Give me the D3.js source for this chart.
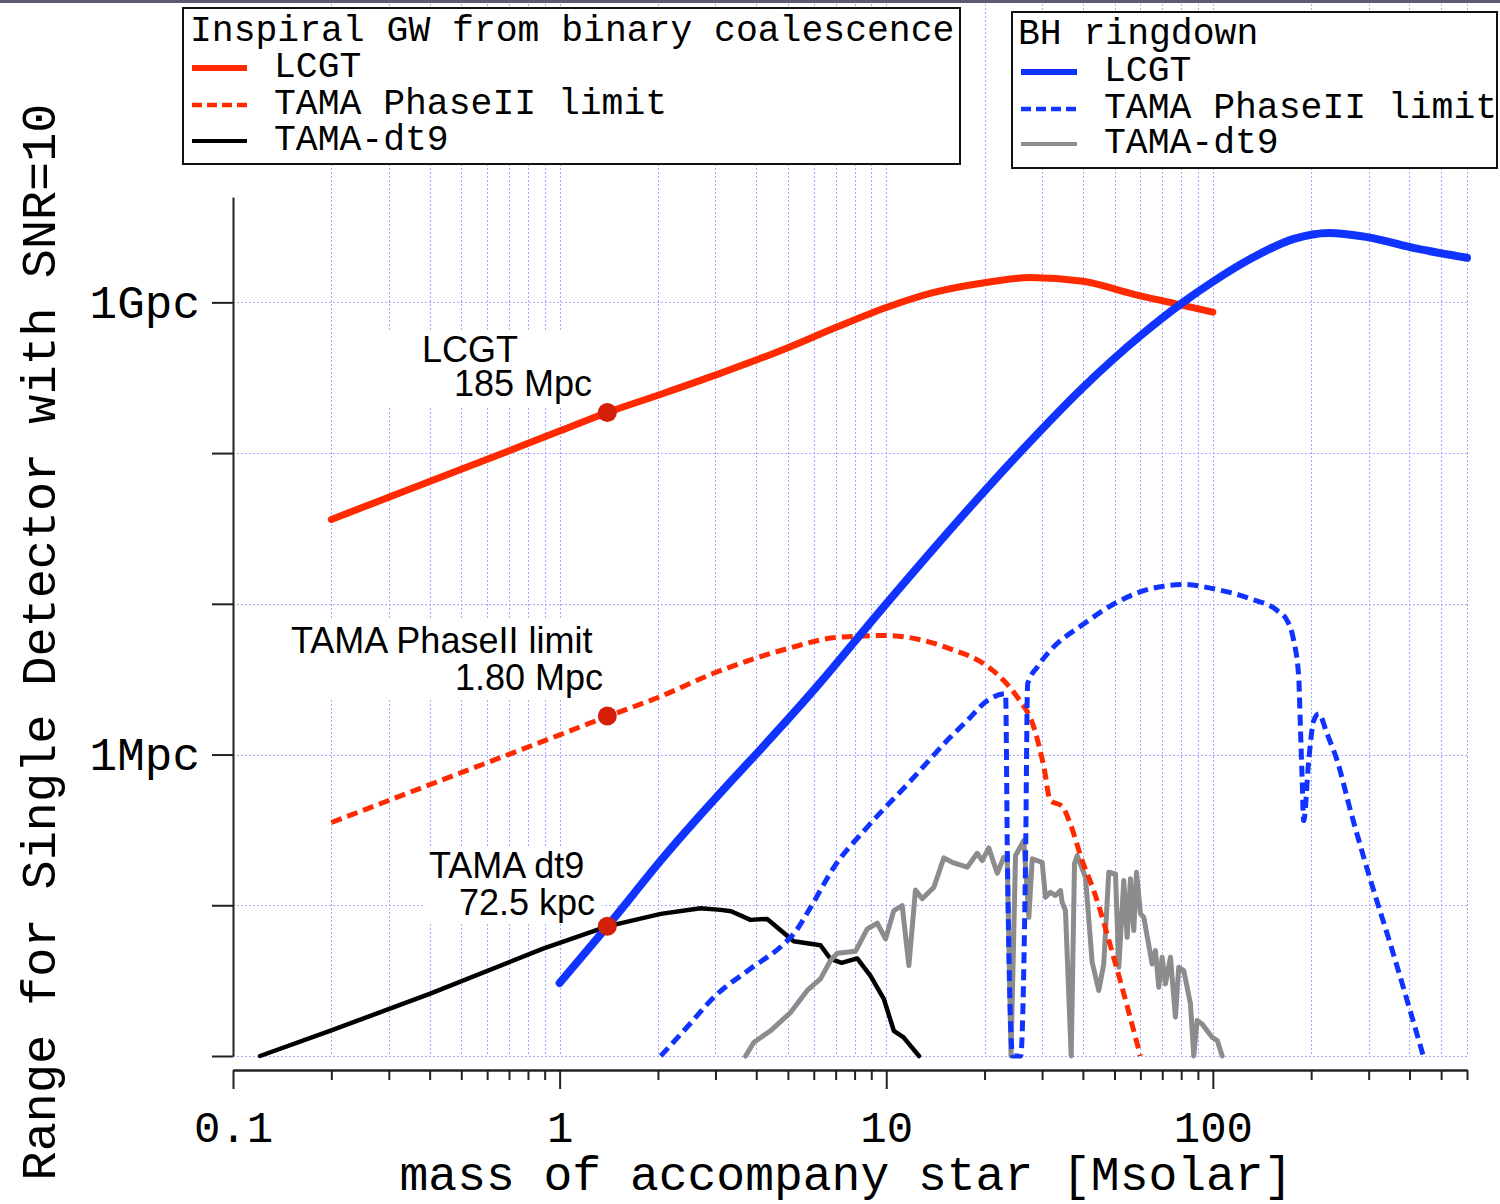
<!DOCTYPE html>
<html>
<head>
<meta charset="utf-8">
<script src="https://cdn.jsdelivr.net/npm/d3@7"></script>
<style>
  body { margin: 0; background: #fff; }
</style>
</head>
<body>
<svg width="1500" height="1204"></svg>
<script>
// ---- data: [mass of accompany star (Msolar), range (Mpc)] ----
// inspiral GW from binary coalescence
const inspLCGT = [[0.2, 36.3], [0.5, 78], [1, 140], [1.4, 186], [2, 242], [3, 329], [5, 500], [7, 680],
    [10, 925], [14, 1165], [20, 1350], [27.5, 1460], [40, 1380], [57, 1135], [76, 985], [100, 861]];

const inspTAMA = [[0.2, 0.354], [0.5, 0.759], [1, 1.35], [1.4, 1.79], [2, 2.39], [3, 3.5], [5, 5.05], [7, 5.97],
    [10, 6.16], [13, 5.71], [15.7, 5.03], [19.9, 4.0], [22.9, 3.10], [25.2, 2.40], [28.3, 1.52], [30.4, 0.824],
    [31.8, 0.495], [34.5, 0.455], [36.6, 0.347], [39.8, 0.198], [43.2, 0.125], [49.7, 0.0452], [60, 0.01]];

const inspDt9 = [[0.121, 0.01], [0.2, 0.0148], [0.4, 0.0258], [0.89, 0.0516], [1.4, 0.0725], [2.04, 0.0877],
    [2.7, 0.0955], [3.11, 0.0932], [3.35, 0.0912], [3.84, 0.080], [4.32, 0.0812], [5.21, 0.0577], [6.29, 0.0543],
    [6.75, 0.0441], [7.3, 0.0415], [8.15, 0.0444], [8.95, 0.0340], [9.84, 0.0238], [10.55, 0.0147],
    [11.3, 0.0133], [12.6, 0.01]];

// BH ringdown
const ringLCGT = [[1, 0.0305], [1.4, 0.0725], [2.04, 0.198], [6.23, 2.94], [10, 10], [25, 95], [40, 272],
    [60, 600], [80.5, 990], [100, 1370], [133, 1990], [177, 2640], [227, 2890], [297, 2709], [422, 2270], [600, 1977]];

const ringTAMA = [[2.04, 0.01], [2.4, 0.0147], [3.04, 0.0258], [3.84, 0.0379], [4.86, 0.0554], [5.21, 0.0646],
    [5.87, 0.097], [6.92, 0.179], [8.75, 0.330], [11.9, 0.672], [15.7, 1.30], [17.7, 1.68], [20.4, 2.28],
    [23.2, 2.53], [23.5, 0.198], [24.4, 0.01], [25.8, 0.01], [26.7, 0.198], [27.1, 2.94], [29.0, 3.80],
    [31.8, 4.90], [40.3, 7.37], [50.9, 10.25], [64.4, 12.58], [81.5, 13.43], [100.6, 12.58], [130.4, 10.79],
    [157.3, 9.03], [168.8, 7.75], [176.8, 5.71], [183.2, 3.26], [185.4, 1.52], [187.6, 0.707], [189.7, 0.365],
    [196.6, 0.912], [203.6, 1.68], [211, 1.86], [223.8, 1.37], [240.2, 0.912], [263.8, 0.425], [289.7, 0.208],
    [362, 0.043], [441, 0.01]];

const ringDt9 = [[3.71, 0.01], [3.93, 0.0123], [4.42, 0.0147], [5.10, 0.0195], [5.73, 0.0272], [6.29, 0.0325],
    [6.75, 0.0430], [7.08, 0.0480], [8.05, 0.0495], [8.75, 0.0697], [9.39, 0.0760], [9.95, 0.0598],
    [10.55, 0.0922], [11.19, 0.0995], [11.73, 0.0398], [12.29, 0.1265], [12.89, 0.1103], [13.99, 0.1317],
    [15.01, 0.2063], [15.92, 0.1929], [17.70, 0.1788], [18.99, 0.2213], [19.67, 0.198], [20.61, 0.2403],
    [21.87, 0.1631], [22.91, 0.2083], [23.47, 0.2083], [24.10, 0.01], [24.88, 0.2137], [26.37, 0.2688],
    [27.33, 0.0833], [27.99, 0.2032], [30.02, 0.1929], [30.73, 0.1130], [31.83, 0.1220], [32.97, 0.1160],
    [34.16, 0.1252], [34.57, 0.1047], [35.38, 0.0922], [36.84, 0.01], [37.71, 0.1883], [38.43, 0.2137],
    [40.74, 0.1534], [42.71, 0.0419], [44.74, 0.0272], [46.35, 0.0408], [48.01, 0.1656], [50.34, 0.1616],
    [51.52, 0.0388], [53.37, 0.1458], [54.66, 0.0613], [55.95, 0.1497], [57.27, 0.0679], [58.38, 0.1656],
    [60.04, 0.0877], [61.45, 0.0833], [65.19, 0.0408], [66.73, 0.0500], [68.30, 0.0286], [69.95, 0.0452],
    [71.60, 0.0301], [74.17, 0.0452], [76.83, 0.0181], [78.64, 0.0388], [81.46, 0.0369], [85.40, 0.0222],
    [87.41, 0.01], [89.53, 0.0172], [92.73, 0.0163], [96.05, 0.0147], [99.5, 0.0133], [103.1, 0.0127], [106.8, 0.01]];

// marked ranges at 1.4 Msolar (neutron star)
const markMass = 1.4;
const markRanges = [186, 1.80, 0.0725];
const markNames = [["LCGT", "185 Mpc"], ["TAMA PhaseII limit", "1.80 Mpc"], ["TAMA dt9", "72.5 kpc"]];

// ticks
const xMajor = [0.1, 1, 10, 100];
const xMinor = [0.2, 0.3, 0.4, 0.5, 0.6, 0.7, 0.8, 0.9, 2, 3, 4, 5, 6, 7, 8, 9,
    20, 30, 40, 50, 60, 70, 80, 90, 200, 300, 400, 500, 600];
const yTicks = [0.01, 0.1, 1, 10, 100, 1000];
const yTickNames = new Map([[1, "1Mpc"], [1000, "1Gpc"]]);

const legendInspNames = ["LCGT", "TAMA PhaseII limit", "TAMA-dt9"];
const legendRingNames = ["LCGT", "TAMA PhaseII limit", "TAMA-dt9"];

// ---- layout ----
const mono = "'Liberation Mono', 'Courier New', monospace";
const sans = "'Liberation Sans', Arial, Helvetica, sans-serif";
const red = "#ff2a00", blue = "#1133ff", gray = "#8c8c8c", dotRed = "#d42008";
const xAxisY = 1070;

const svg = d3.select("svg");

const x = d3.scaleLog().domain([0.1, 600]).range([233, 1467]);
const y = d3.scaleLog().domain([0.01, 5000]).range([1056, 197]);

// top strip
svg.append("rect").attr("x", 0).attr("y", 0).attr("width", 1500).attr("height", 3).attr("fill", "#5c5c70");

// ======= grid =======
const grid = svg.append("g")
    .attr("stroke", "#a8a8ff")
    .attr("stroke-width", 1)
    .attr("stroke-dasharray", "2,2");

grid.selectAll("line.v")
    .data(xMinor.concat([1, 10, 100]))
    .enter().append("line")
    .attr("class", "v")
    .attr("x1", d => Math.round(x(d)) + 0.5)
    .attr("x2", d => Math.round(x(d)) + 0.5)
    .attr("y1", 4)
    .attr("y2", y(0.01));

grid.selectAll("line.h")
    .data(yTicks)
    .enter().append("line")
    .attr("class", "h")
    .attr("x1", x(0.1))
    .attr("x2", x(600))
    .attr("y1", d => Math.round(y(d)) + 0.5)
    .attr("y2", d => Math.round(y(d)) + 0.5);

// ======= annotation boxes (hide grid behind text) =======
const noteBoxes = [[372, 330, 230, 77], [284, 620, 326, 80], [424, 846, 178, 76]];
const noteText = [
    [[422, 362], [454, 396]],
    [[291, 653], [455, 690]],
    [[429, 878], [459, 915]]
];
noteBoxes.forEach(b => {
    svg.append("rect").attr("x", b[0]).attr("y", b[1]).attr("width", b[2]).attr("height", b[3]).attr("fill", "#fff");
});
markNames.forEach((lines, i) => {
    lines.forEach((t, j) => {
        svg.append("text")
            .attr("x", noteText[i][j][0])
            .attr("y", noteText[i][j][1])
            .attr("font-family", sans)
            .attr("font-size", "36px")
            .attr("fill", "#000")
            .text(t);
    });
});

// ======= axes =======
function styleAxis(g) {
    g.select(".domain").attr("stroke", "#222").attr("stroke-width", 2);
    g.selectAll(".tick line").attr("stroke", "#222").attr("stroke-width", 2);
    g.selectAll("text").attr("fill", "#000").attr("font-family", mono);
}

svg.append("g")
    .attr("transform", `translate(0, ${xAxisY})`)
    .call(d3.axisBottom(x).tickValues(xMinor).tickSize(10).tickSizeOuter(0).tickFormat(""))
    .call(styleAxis);

svg.append("g")
    .attr("transform", `translate(0, ${xAxisY})`)
    .call(d3.axisBottom(x).tickValues(xMajor).tickSize(19).tickSizeOuter(0).tickPadding(22).tickFormat(d => String(d)))
    .call(styleAxis)
    .selectAll("text").attr("font-size", "44px");

svg.append("g")
    .attr("transform", `translate(${x(0.1)}, 0)`)
    .call(d3.axisLeft(y).tickValues(yTicks).tickSize(21).tickSizeOuter(0).tickPadding(12)
        .tickFormat(d => yTickNames.get(d) || ""))
    .call(styleAxis)
    .selectAll("text").attr("font-size", "46px");

svg.append("text")
    .attr("x", 846)
    .attr("y", 1190)
    .attr("text-anchor", "middle")
    .attr("font-family", mono)
    .attr("font-size", "48px")
    .text("mass of accompany star [Msolar]");

svg.append("text")
    .attr("transform", "translate(55, 642) rotate(-90)")
    .attr("text-anchor", "middle")
    .attr("font-family", mono)
    .attr("font-size", "48.5px")
    .text("Range for Single Detector with SNR=10");

// ======= curves =======
const smooth = d3.line().x(d => x(d[0])).y(d => y(d[1])).curve(d3.curveMonotoneX);
const straight = d3.line().x(d => x(d[0])).y(d => y(d[1]));

const series = [
    {data: inspDt9, line: straight, color: "#000", width: 4.5, dash: null},
    {data: ringDt9, line: straight, color: gray, width: 5, dash: null},
    {data: inspTAMA, line: smooth, color: red, width: 5, dash: "11,6"},
    {data: ringTAMA, line: smooth, color: blue, width: 5, dash: "11,6"},
    {data: inspLCGT, line: smooth, color: red, width: 7, dash: null},
    {data: ringLCGT, line: smooth, color: blue, width: 8, dash: null}
];

series.forEach(s => {
    svg.append("path")
        .attr("d", s.line(s.data))
        .attr("fill", "none")
        .attr("stroke", s.color)
        .attr("stroke-width", s.width)
        .attr("stroke-linejoin", "round")
        .attr("stroke-linecap", s.dash ? "butt" : "round")
        .attr("stroke-dasharray", s.dash);
});

svg.selectAll("circle.mark")
    .data(markRanges)
    .enter().append("circle")
    .attr("class", "mark")
    .attr("cx", x(markMass))
    .attr("cy", d => y(d))
    .attr("r", 9.5)
    .attr("fill", dotRed);

// ======= legends =======
function legend(box, title, names, styles, titleX, textX, sample, rows) {
    const g = svg.append("g");
    g.append("rect")
        .attr("x", box[0]).attr("y", box[1]).attr("width", box[2]).attr("height", box[3])
        .attr("fill", "#fff").attr("stroke", "#111").attr("stroke-width", 2);
    g.append("text")
        .attr("x", titleX).attr("y", rows[0])
        .attr("font-family", mono).attr("font-size", "36.4px")
        .text(title);
    names.forEach((n, i) => {
        const st = styles[i];
        g.append("line")
            .attr("x1", sample[0]).attr("x2", sample[1])
            .attr("y1", rows[i + 1] - 9).attr("y2", rows[i + 1] - 9)
            .attr("stroke", st.color).attr("stroke-width", st.width)
            .attr("stroke-dasharray", st.dash);
        g.append("text")
            .attr("x", textX).attr("y", rows[i + 1])
            .attr("font-family", mono).attr("font-size", "36.4px")
            .text(n);
    });
}

legend([183, 8, 777, 156], "Inspiral GW from binary coalescence", legendInspNames,
    [{color: red, width: 6}, {color: red, width: 4.5, dash: "10,5"}, {color: "#000", width: 4}],
    190, 274, [192, 247], [41, 77, 114, 150]);

legend([1012, 12, 485, 156], "BH ringdown", legendRingNames,
    [{color: blue, width: 6}, {color: blue, width: 4.5, dash: "10,5"}, {color: gray, width: 4}],
    1018, 1104, [1021, 1077], [44, 81, 118, 153]);
</script>
</body>
</html>
